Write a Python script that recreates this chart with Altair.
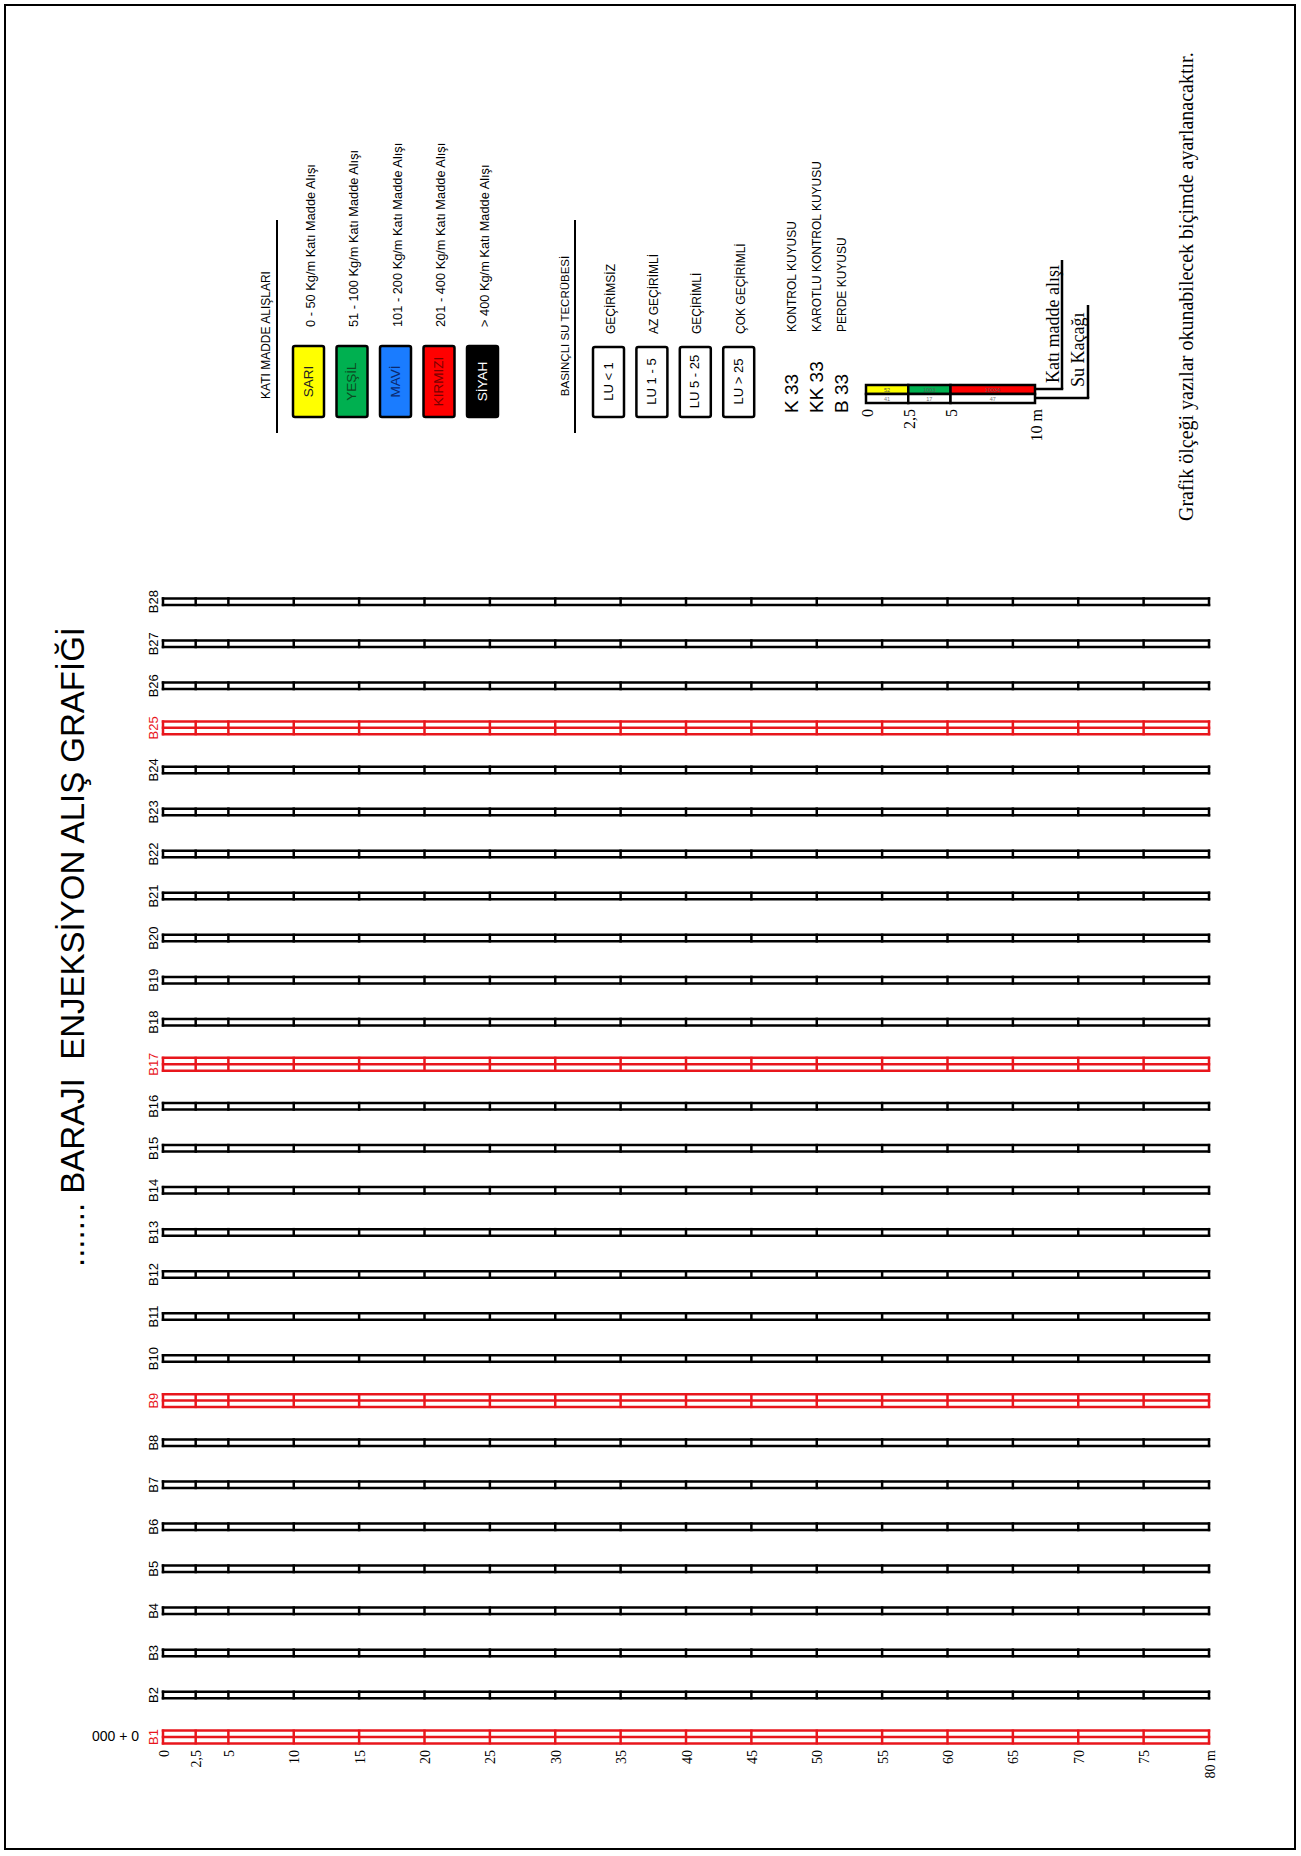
import altair as alt
import pandas as pd

# ---------------- data ----------------
boreholes = ["B1", "B2", "B3", "B4", "B5", "B6", "B7", "B8", "B9", "B10", "B11", "B12", "B13", "B14",
             "B15", "B16", "B17", "B18", "B19", "B20", "B21", "B22", "B23", "B24", "B25", "B26", "B27", "B28"]
highlight_rows = ["B1", "B9", "B17", "B25"]
divider_m = [0, 2.5, 5, 10, 15, 20, 25, 30, 35, 40, 45, 50, 55, 60, 65, 70, 75, 80]
tick_labels = ["0", "2,5", "5", "10", "15", "20", "25", "30", "35", "40", "45", "50", "55", "60",
               "65", "70", "75", "80 m"]
start_label = "000 + 0"
title_text = "....... BARAJI \u00a0ENJEKSİYON ALIŞ GRAFİĞİ"

solid_header = "KATI MADDE ALIŞLARI"
solid_names = ["SARI", "YEŞİL", "MAVİ", "KIRMIZI", "SİYAH"]
solid_fills = ["#ffff00", "#00b050", "#1a7cff", "#ff0000", "#000000"]
solid_text_colors = ["#222222", "#0d4a22", "#0b2a70", "#7a0000", "#ffffff"]
solid_desc = ["0 - 50 Kg/m Katı Madde Alışı", "51 - 100 Kg/m Katı Madde Alışı",
              "101 - 200 Kg/m Katı Madde Alışı", "201 - 400 Kg/m Katı Madde Alışı",
              "> 400 Kg/m Katı Madde Alışı"]

water_header = "BASINÇLI SU TECRÜBESİ"
lu_names = ["LU < 1", "LU 1 - 5", "LU 5 - 25", "LU > 25"]
lu_desc = ["GEÇİRİMSİZ", "AZ GEÇİRİMLİ", "GEÇİRİMLİ", "ÇOK GEÇİRİMLİ"]

well_codes = ["K 33", "KK 33", "B 33"]
well_desc = ["KONTROL KUYUSU", "KAROTLU KONTROL KUYUSU", "PERDE KUYUSU"]

scale_breaks = [0, 2.5, 5, 10]
scale_labels = ["0", "2,5", "5", "10 m"]
scale_top_fills = ["#ffff00", "#00b050", "#ff0000"]
scale_top_values = ["52", "1003", "10034"]
scale_bottom_values = ["41", "17", "47"]
leader_labels = ["Katı madde alışı", "Su Kaçağı"]
footnote = "Grafik ölçeği yazılar okunabilecek biçimde ayarlanacaktır."

# ---------------- layout / style ----------------
W, H = 1301, 1856
RED = "#e8161c"
SANS = "Liberation Sans"
SERIF = "Liberation Serif"

x_main = alt.Scale(domain=[0, 80], range=[163, 1209], nice=False, zero=False)
y_main = alt.Scale(domain=[1, 28], range=[1737, 601.7], nice=False, zero=False)
x_leg = alt.Scale(domain=[0, 10], range=[866, 1035], nice=False, zero=False)


def X(f, s):
    return alt.X(f, scale=s, axis=None)


def Y(f, s):
    return alt.Y(f, scale=s, axis=None)


one = pd.DataFrame({"a": [0]})

rows = pd.DataFrame({"name": boreholes, "row": list(range(1, len(boreholes) + 1))})
rows["start"] = divider_m[0]
rows["end"] = divider_m[-1]
rows["hl"] = rows["name"].isin(highlight_rows)
rows["lc"] = rows["hl"].map({True: RED, False: "black"})
black_rows = rows[~rows["hl"]]
red_rows = rows[rows["hl"]]

div = rows.merge(pd.DataFrame({"m": divider_m}), how="cross")
black_div = div[~div["hl"]]
red_div = div[div["hl"]]

first_row = rows[rows["row"] == 1]
ticks_df = pd.DataFrame({"m": divider_m, "label": tick_labels})
ticks_df["row"] = 1

layers = []

# border
layers.append(alt.Chart(one).mark_rect(fillOpacity=0, stroke="black", strokeWidth=2).encode(
    x=alt.value(5), x2=alt.value(1295), y=alt.value(5), y2=alt.value(1849)))


def hline(df, off, color):
    return alt.Chart(df).mark_rule(yOffset=off, strokeWidth=2.5, color=color, strokeCap="square").encode(
        x=X("start:Q", x_main), x2="end:Q", y=Y("row:Q", y_main))


layers += [hline(black_rows, -3.25, "black"), hline(black_rows, 3.25, "black"),
           hline(red_rows, -6.4, RED), hline(red_rows, 0, RED), hline(red_rows, 6.4, RED)]

layers.append(alt.Chart(black_div).mark_tick(orient="vertical", size=9, thickness=2.5, color="black",
                                             opacity=1).encode(
    x=X("m:Q", x_main), y=Y("row:Q", y_main)))
layers.append(alt.Chart(red_div).mark_tick(orient="vertical", size=15, thickness=2.5, color=RED,
                                           opacity=1).encode(
    x=X("m:Q", x_main), y=Y("row:Q", y_main)))

# row labels
layers.append(alt.Chart(rows).mark_text(angle=270, align="center", baseline="alphabetic", font=SANS,
                                        fontSize=13, xOffset=-5).encode(
    x=X("start:Q", x_main), y=Y("row:Q", y_main), text="name:N",
    color=alt.Color("lc:N", scale=None)))

# distance tick labels
layers.append(alt.Chart(ticks_df).mark_text(angle=270, align="right", baseline="middle", font=SERIF,
                                            fontSize=14, yOffset=13, xOffset=1.5).encode(
    x=X("m:Q", x_main), y=Y("row:Q", y_main), text="label:N"))

# chainage label
layers.append(alt.Chart(first_row).mark_text(text=start_label, align="right", baseline="middle",
                                             font=SANS, fontSize=14, xOffset=-24).encode(
    x=X("start:Q", x_main), y=Y("row:Q", y_main)))


def label(text, x, y, size, font=SANS, align="center", baseline="middle", angle=270, color="black"):
    return alt.Chart(one).mark_text(text=text, angle=angle, align=align, baseline=baseline,
                                    fontSize=size, font=font, color=color).encode(
        x=alt.value(x), y=alt.value(y))


def vrule(x, y0, y1, w=2):
    return alt.Chart(one).mark_rule(strokeWidth=w, color="black").encode(
        x=alt.value(x), y=alt.value(y0), y2=alt.value(y1))


def hrule(x0, x1, y, w=2.5):
    return alt.Chart(one).mark_rule(strokeWidth=w, color="black", strokeCap="square").encode(
        x=alt.value(x0), x2=alt.value(x1), y=alt.value(y))


# title
layers.append(label(title_text, 74, 947, 33))

# ---- legend 1: solid intake ----
BOX_W, STEP = 31, 43.5
BOX_Y0, BOX_Y1 = 346, 417
solid = pd.DataFrame({"name": solid_names, "fill": solid_fills, "tc": solid_text_colors, "desc": solid_desc})
solid["px0"] = 293 + solid.index * STEP
solid["px1"] = solid["px0"] + BOX_W
solid["pc"] = solid["px0"] + BOX_W / 2
solid["pd"] = solid["pc"] + 2

layers.append(label(solid_header, 266, 335, 12))
layers.append(vrule(277, 220, 433))
layers.append(alt.Chart(solid).mark_rect(stroke="black", strokeWidth=2.5, cornerRadius=2).encode(
    x=alt.X("px0:Q", scale=None), x2="px1:Q", y=alt.value(BOX_Y0), y2=alt.value(BOX_Y1),
    color=alt.Color("fill:N", scale=None)))
layers.append(alt.Chart(solid).mark_text(angle=270, align="center", baseline="middle", font=SANS,
                                         fontSize=13.5).encode(
    x=alt.X("pc:Q", scale=None), y=alt.value((BOX_Y0 + BOX_Y1) / 2), text="name:N",
    color=alt.Color("tc:N", scale=None)))
layers.append(alt.Chart(solid).mark_text(angle=270, align="left", baseline="middle", font=SANS,
                                         fontSize=12.8).encode(
    x=alt.X("pd:Q", scale=None), y=alt.value(327), text="desc:N"))

# ---- legend 2: water pressure test ----
lu = pd.DataFrame({"name": lu_names, "desc": lu_desc})
lu["px0"] = 593 + lu.index * 43.4
lu["px1"] = lu["px0"] + BOX_W
lu["pc"] = lu["px0"] + BOX_W / 2
lu["pd"] = lu["pc"] + 2

layers.append(label(water_header, 566, 326, 11.5))
layers.append(vrule(575, 220, 433))
layers.append(alt.Chart(lu).mark_rect(stroke="black", strokeWidth=2.5, cornerRadius=2, fill="white").encode(
    x=alt.X("px0:Q", scale=None), x2="px1:Q", y=alt.value(BOX_Y0 + 1), y2=alt.value(BOX_Y1)))
layers.append(alt.Chart(lu).mark_text(angle=270, align="center", baseline="middle", font=SANS,
                                      fontSize=13).encode(
    x=alt.X("pc:Q", scale=None), y=alt.value((BOX_Y0 + BOX_Y1) / 2), text="name:N"))
layers.append(alt.Chart(lu).mark_text(angle=270, align="left", baseline="middle", font=SANS,
                                      fontSize=12).encode(
    x=alt.X("pd:Q", scale=None), y=alt.value(334), text="desc:N"))

# ---- wells ----
wells = pd.DataFrame({"code": well_codes, "desc": well_desc})
wells["px"] = 791.5 + wells.index * 25.3
layers.append(alt.Chart(wells).mark_text(angle=270, align="left", baseline="middle", font=SANS,
                                         fontSize=19).encode(
    x=alt.X("px:Q", scale=None), y=alt.value(413), text="code:N"))
layers.append(alt.Chart(wells).mark_text(angle=270, align="left", baseline="middle", font=SANS,
                                         fontSize=12).encode(
    x=alt.X("px:Q", scale=None), y=alt.value(332), text="desc:N"))

# ---- scale legend bar ----
seg = pd.DataFrame({"a": scale_breaks[:-1], "b": scale_breaks[1:], "fill": scale_top_fills,
                    "tv": scale_top_values, "bv": scale_bottom_values})
seg["mid"] = (seg["a"] + seg["b"]) / 2
layers.append(alt.Chart(seg).mark_rect(stroke="black", strokeWidth=2.5).encode(
    x=X("a:Q", x_leg), x2="b:Q", y=alt.value(385), y2=alt.value(394),
    color=alt.Color("fill:N", scale=None)))
layers.append(alt.Chart(seg).mark_rect(stroke="black", strokeWidth=2.5, fill="white").encode(
    x=X("a:Q", x_leg), x2="b:Q", y=alt.value(394), y2=alt.value(403)))
layers.append(alt.Chart(seg).mark_text(font=SANS, fontSize=5.5, color="#555555", baseline="middle").encode(
    x=X("mid:Q", x_leg), y=alt.value(389.5), text="tv:N"))
layers.append(alt.Chart(seg).mark_text(font=SANS, fontSize=5.5, color="#777777", baseline="middle").encode(
    x=X("mid:Q", x_leg), y=alt.value(398.5), text="bv:N"))
scale_df = pd.DataFrame({"m": scale_breaks, "label": scale_labels})
layers.append(alt.Chart(scale_df).mark_text(angle=270, align="right", baseline="middle", font=SERIF,
                                            fontSize=16, xOffset=1.5).encode(
    x=X("m:Q", x_leg), y=alt.value(409), text="label:N"))

# leaders
layers += [hrule(1036, 1062, 389), vrule(1062, 389, 260, 2.5),
           hrule(1036, 1088, 398), vrule(1088, 398, 305, 2.5)]
layers.append(label(leader_labels[0], 1059, 383, 18, font=SERIF, align="left", baseline="alphabetic"))
layers.append(label(leader_labels[1], 1084, 387, 18, font=SERIF, align="left", baseline="alphabetic"))

# footnote
layers.append(label(footnote, 1187, 521, 20, font=SERIF, align="left"))

chart = alt.layer(*layers).resolve_scale(x="independent", y="independent").properties(
    width=W, height=H, padding=0, autosize="none", background="white"
).configure_view(stroke=None)

chart.save("out.html", embed_options={"renderer": "svg", "actions": False})
